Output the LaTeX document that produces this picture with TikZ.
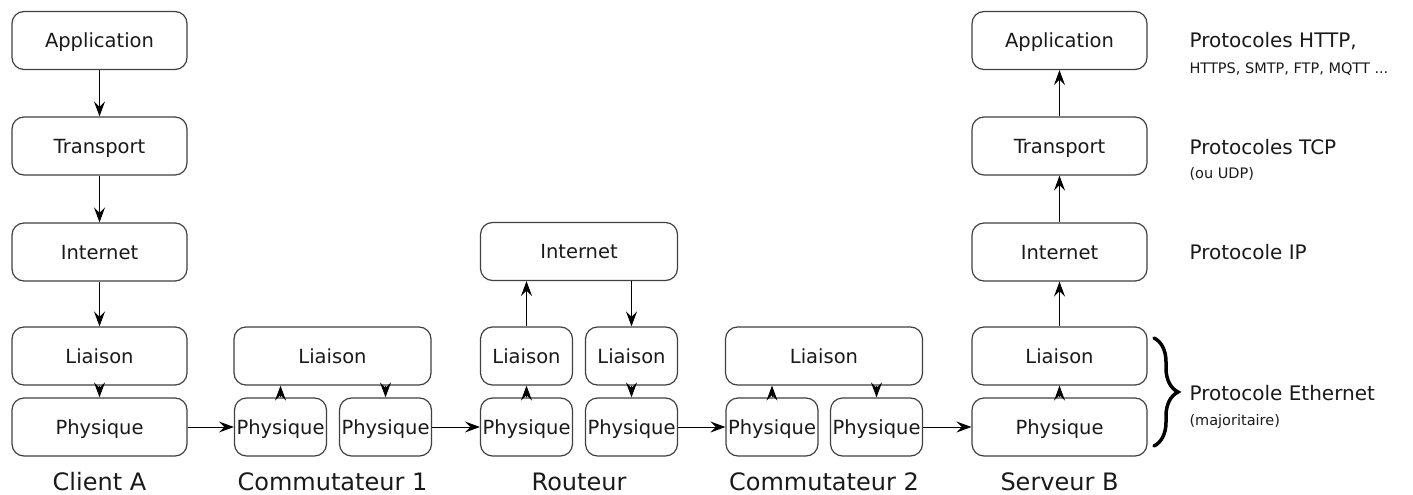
\documentclass[tikz,border=0pt]{standalone}
\usepackage{fontspec}
\setmainfont{DejaVu Sans}
\usetikzlibrary{arrows.meta,decorations.pathreplacing}
\definecolor{boxline}{HTML}{404040}
\definecolor{txt}{HTML}{1A1A1A}
\begin{document}
\begin{tikzpicture}[x=1pt,y=-1pt,
  layer/.style={draw=boxline, line width=1.2pt, rounded corners=12pt, fill=white,
    minimum height=58pt, inner sep=0pt, text=txt,
    font=\fontsize{19.5}{22}\selectfont, text height=14.2pt, text depth=0pt},
  wide/.style={layer, minimum width=175pt},
  half/.style={layer, minimum width=92pt},
  big/.style={layer, minimum width=197pt},
  flow/.style={draw=black, line width=1pt, -{Stealth[length=15pt,width=11pt,inset=5.5pt]}},
  devlabel/.style={anchor=base, text=txt, font=\fontsize{24}{28}\selectfont},
  prot/.style={anchor=base west, text=txt, font=\fontsize{20}{24}\selectfont},
  protsmall/.style={anchor=base west, text=txt, font=\fontsize{14.5}{17}\selectfont}
]
\useasboundingbox (0,0) rectangle (1413,495);

% Client A
\node[wide] (aApp) at (99.5,40.5) {Application};
\node[wide] (aTr)  at (99.5,146) {Transport};
\node[wide] (aIn)  at (99.5,252) {Internet};
\node[wide] (aLi)  at (99.5,356) {Liaison};
\node[wide] (aPh)  at (99.5,427) {Physique};

% Commutateur 1
\node[big]  (c1Li)  at (332.5,356) {Liaison};
\node[half] (c1Pa)  at (280.5,427) {Physique};
\node[half] (c1Pb)  at (385.5,427) {Physique};

% Routeur
\node[big]  (rIn)  at (579,251.5) {Internet};
\node[half] (rLa)  at (526.5,356) {Liaison};
\node[half] (rLb)  at (631.5,356) {Liaison};
\node[half] (rPa)  at (526.5,427) {Physique};
\node[half] (rPb)  at (631.5,427) {Physique};

% Commutateur 2
\node[big]  (c2Li)  at (824,356) {Liaison};
\node[half] (c2Pa)  at (772,427) {Physique};
\node[half] (c2Pb)  at (876.5,427) {Physique};

% Serveur B
\node[wide] (bApp) at (1059.5,40.5) {Application};
\node[wide] (bTr)  at (1059.5,146) {Transport};
\node[wide] (bIn)  at (1059.5,252) {Internet};
\node[wide] (bLi)  at (1059.5,356) {Liaison};
\node[wide] (bPh)  at (1059.5,427) {Physique};

% Client A arrows
\draw[flow] (aApp.south) -- (aTr.north);
\draw[flow] (aTr.south) -- (aIn.north);
\draw[flow] (aIn.south) -- (aLi.north);
\draw[flow] (aLi.south) -- (aPh.north);
\draw[flow] (aPh.east) -- (c1Pa.west);

% Commutateur 1 arrows
\draw[flow] (c1Pa.north) -- (c1Pa.north |- c1Li.south);
\draw[flow] (c1Pb.north |- c1Li.south) -- (c1Pb.north);
\draw[flow] (c1Pb.east) -- (rPa.west);

% Routeur arrows
\draw[flow] (rPa.north) -- (rLa.south);
\draw[flow] (rLa.north) -- (rLa.north |- rIn.south);
\draw[flow] (rLb.north |- rIn.south) -- (rLb.north);
\draw[flow] (rLb.south) -- (rPb.north);
\draw[flow] (rPb.east) -- (c2Pa.west);

% Commutateur 2 arrows
\draw[flow] (c2Pa.north) -- (c2Pa.north |- c2Li.south);
\draw[flow] (c2Pb.north |- c2Li.south) -- (c2Pb.north);
\draw[flow] (c2Pb.east) -- (bPh.west);

% Serveur B arrows
\draw[flow] (bPh.north) -- (bLi.south);
\draw[flow] (bLi.north) -- (bIn.south);
\draw[flow] (bIn.north) -- (bTr.south);
\draw[flow] (bTr.north) -- (bApp.south);

% device labels
\node[devlabel] (lA)  at (99.5,490) {Client A};
\node[devlabel] (lC1) at (332.5,490) {Commutateur 1};
\node[devlabel] (lR)  at (579,490) {Routeur};
\node[devlabel] (lC2) at (824,490) {Commutateur 2};
\node[devlabel] (lB)  at (1059.5,490) {Serveur B};

% protocol labels
\node[prot] (pHttp) at (1186,48) {Protocoles HTTP,};
\node[protsmall] (pHttp2) at (1186,74) {HTTPS, SMTP, FTP, MQTT ...};
\node[prot] (pTcp) at (1186,154) {Protocoles TCP};
\node[protsmall] (pTcp2) at (1186,178) {(ou UDP)};
\node[prot] (pIp) at (1186,259) {Protocole IP};
\node[prot] (pEth) at (1186,400) {Protocole Ethernet};
\node[protsmall] (pEth2) at (1186,425) {(majoritaire)};

% brace
\coordinate (brTop) at (1154,338);
\coordinate (brBot) at (1154,446);
\draw[decorate, decoration={brace, amplitude=24pt}, line width=3.5pt, line cap=round] (brTop) -- (brBot);
\end{tikzpicture}
\end{document}
